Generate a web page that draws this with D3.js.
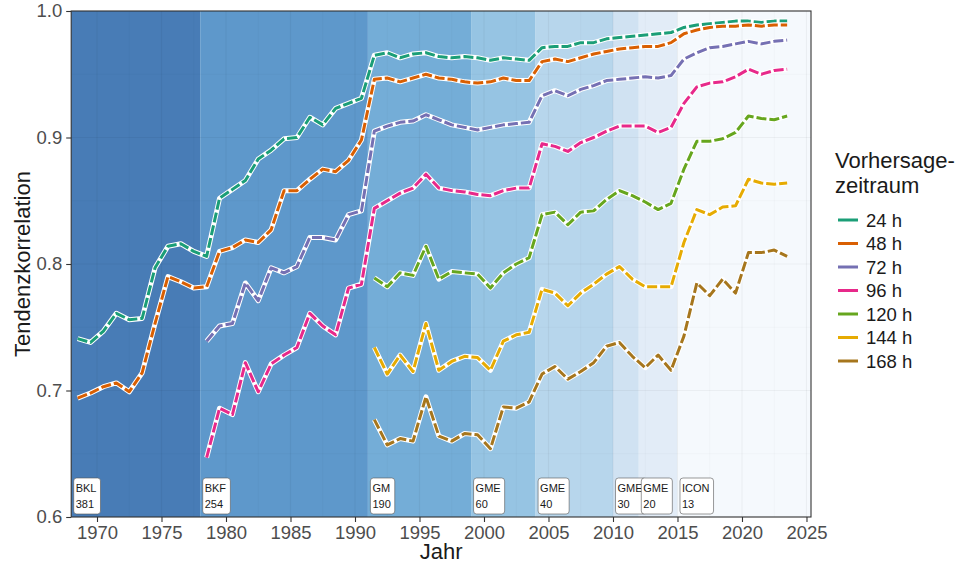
<!DOCTYPE html>
<html>
<head>
<meta charset="utf-8">
<script src="https://cdn.jsdelivr.net/npm/d3@7"></script>
<style>
  body { margin: 0; background: #fff; }
  text { font-family: "Liberation Sans", Arial, sans-serif; }
</style>
</head>
<body>
<svg id="chart" width="959" height="566"></svg>
<script>
// values
var years24 = d3.range(1968, 2024)
var years72 = d3.range(1978, 2024)
var years120 = d3.range(1991, 2024)

var h24 = [0.741, 0.738, 0.747, 0.761, 0.756, 0.757, 0.797, 0.814, 0.816, 0.810,
  0.806, 0.852, 0.859, 0.866, 0.883, 0.890, 0.899, 0.900, 0.916, 0.910,
  0.923, 0.927, 0.931, 0.965, 0.967, 0.963, 0.966, 0.967, 0.964, 0.963,
  0.964, 0.963, 0.961, 0.963, 0.962, 0.961, 0.971, 0.972, 0.972, 0.975,
  0.975, 0.978, 0.979, 0.980, 0.981, 0.982, 0.983, 0.987, 0.989, 0.990,
  0.991, 0.992, 0.992, 0.991, 0.992, 0.992]
var h48 = [0.694, 0.698, 0.703, 0.706, 0.699, 0.714, 0.753, 0.790, 0.786, 0.781,
  0.782, 0.810, 0.813, 0.819, 0.817, 0.827, 0.858, 0.858, 0.867, 0.875,
  0.873, 0.882, 0.898, 0.946, 0.947, 0.944, 0.947, 0.950, 0.947, 0.946,
  0.944, 0.943, 0.944, 0.947, 0.945, 0.945, 0.960, 0.962, 0.960, 0.963,
  0.966, 0.968, 0.970, 0.971, 0.972, 0.972, 0.975, 0.982, 0.985, 0.987,
  0.988, 0.988, 0.989, 0.988, 0.989, 0.989]
var h72 = [0.739, 0.751, 0.753, 0.785, 0.771, 0.797, 0.793, 0.798, 0.821, 0.821,
  0.819, 0.839, 0.842, 0.905, 0.909, 0.912, 0.913, 0.918, 0.914, 0.910,
  0.908, 0.906, 0.908, 0.910, 0.911, 0.912, 0.933, 0.937, 0.933, 0.938,
  0.941, 0.945, 0.946, 0.947, 0.948, 0.947, 0.949, 0.962, 0.967, 0.971,
  0.972, 0.974, 0.976, 0.974, 0.976, 0.977]
var h96 = [0.647, 0.686, 0.681, 0.722, 0.699, 0.721, 0.728, 0.734, 0.761, 0.751,
  0.744, 0.781, 0.784, 0.844, 0.850, 0.856, 0.860, 0.871, 0.860, 0.858,
  0.857, 0.855, 0.854, 0.858, 0.860, 0.860, 0.895, 0.893, 0.889, 0.896,
  0.900, 0.905, 0.909, 0.909, 0.909, 0.904, 0.908, 0.927, 0.940, 0.943,
  0.944, 0.948, 0.954, 0.950, 0.953, 0.954]
var h120 = [0.789, 0.782, 0.793, 0.791, 0.814, 0.788, 0.794, 0.793, 0.792, 0.781,
  0.793, 0.800, 0.805, 0.839, 0.841, 0.831, 0.841, 0.842, 0.851, 0.858,
  0.854, 0.849, 0.843, 0.848, 0.875, 0.897, 0.897, 0.899, 0.904, 0.917,
  0.915, 0.914, 0.917]
var h144 = [0.734, 0.713, 0.728, 0.715, 0.753, 0.716, 0.723, 0.727, 0.726, 0.716,
  0.739, 0.744, 0.746, 0.780, 0.777, 0.767, 0.777, 0.784, 0.792, 0.798,
  0.788, 0.782, 0.782, 0.782, 0.817, 0.843, 0.839, 0.845, 0.846, 0.867,
  0.864, 0.863, 0.864]
var h168 = [0.677, 0.657, 0.662, 0.660, 0.695, 0.664, 0.660, 0.666, 0.665, 0.654,
  0.687, 0.686, 0.691, 0.713, 0.719, 0.709, 0.715, 0.722, 0.735, 0.738,
  0.727, 0.718, 0.728, 0.716, 0.743, 0.785, 0.775, 0.788, 0.777, 0.809,
  0.809, 0.811, 0.806]

var seriesNames = ["24 h", "48 h", "72 h", "96 h", "120 h", "144 h", "168 h"]
var seriesColors = ["#1b9e77", "#d95f02", "#7570b3", "#e7298a", "#66a61e", "#e6ab02", "#a6761d"]

// model periods (background bands)
var modelNames = ["BKL", "BKF", "GM", "GME", "GME", "GME", "GME", "ICON"]
var modelRes = ["381", "254", "190", "60", "40", "30", "20", "13"]
var modelStart = [1968, 1978, 1991, 1999, 2004, 2010, 2012, 2015]
var modelColors = ["#487cb6", "#5e98cb", "#74add7", "#96c4e3", "#b7d6ec", "#d0e2f2", "#e2ecf7", "#f5f9fd"]

var xTicks = d3.range(1970, 2026, 5)
var yTicks = [0.6, 0.7, 0.8, 0.9, 1.0]

var series = [
  { key: seriesNames[0], years: years24, values: h24 },
  { key: seriesNames[1], years: years24, values: h48 },
  { key: seriesNames[2], years: years72, values: h72 },
  { key: seriesNames[3], years: years72, values: h96 },
  { key: seriesNames[4], years: years120, values: h120 },
  { key: seriesNames[5], years: years120, values: h144 },
  { key: seriesNames[6], years: years120, values: h168 }
]

var margin = { top: 11, left: 71.2, right: 148, bottom: 49 }
var width = 959 - margin.left - margin.right
var height = 566 - margin.top - margin.bottom

var svg = d3.select("#chart")
var g = svg.append("g")
  .attr("transform", "translate(" + margin.left + "," + margin.top + ")")

var xMax = 2025.35
var x = d3.scaleLinear().domain([1968, xMax]).range([0, width])
var y = d3.scaleLinear().domain([0.6, 1.0]).range([height, 0])
var color = d3.scaleOrdinal().domain(seriesNames).range(seriesColors)

// background bands
var bands = modelStart.map(function(s, i) {
  return { start: s, end: i < modelStart.length - 1 ? modelStart[i + 1] : xMax, fill: modelColors[i] }
})
g.selectAll(".band")
  .data(bands)
  .enter()
  .append("rect")
  .attr("x", function(d) { return x(d.start) })
  .attr("width", function(d) { return x(d.end) - x(d.start) })
  .attr("y", 0)
  .attr("height", height)
  .attr("fill", function(d) { return d.fill })

// grid lines
var xMinor = d3.range(1970, 2026, 2.5)
var yMinor = d3.range(0.6, 1.001, 0.05)
g.selectAll(".gx")
  .data(xMinor)
  .enter()
  .append("line")
  .attr("x1", function(d) { return x(d) })
  .attr("x2", function(d) { return x(d) })
  .attr("y1", 0).attr("y2", height)
  .attr("stroke", "rgba(0,0,0,0.045)")
  .attr("stroke-width", function(d) { return d % 5 === 0 ? 1.2 : 0.6 })
g.selectAll(".gy")
  .data(yMinor)
  .enter()
  .append("line")
  .attr("y1", function(d) { return y(d) })
  .attr("y2", function(d) { return y(d) })
  .attr("x1", 0).attr("x2", width)
  .attr("stroke", "rgba(0,0,0,0.045)")
  .attr("stroke-width", function(d, i) { return i % 2 === 0 ? 1.2 : 0.6 })

// lines: white halo + dashed coloured line, points at mid-year
var line = d3.line()
  .x(function(d) { return x(d[0] + 0.5) })
  .y(function(d) { return y(d[1]) })

series.forEach(function(s) {
  var pts = s.years.map(function(yr, i) { return [yr, s.values[i]] })
  g.append("path")
    .datum(pts)
    .attr("fill", "none")
    .attr("stroke", "#fff")
    .attr("stroke-width", 5)
    .attr("stroke-linejoin", "round")
    .attr("d", line)
  g.append("path")
    .datum(pts)
    .attr("fill", "none")
    .attr("stroke", color(s.key))
    .attr("stroke-width", 3)
    .attr("stroke-dasharray", "10,3")
    .attr("stroke-linejoin", "round")
    .attr("d", line)
})

// model labels
modelStart.forEach(function(s, i) {
  var lg = g.append("g")
    .attr("transform", "translate(" + (x(s) + 2.5) + "," + (height - 39) + ")")
  var box = lg.append("rect")
  var t = lg.append("text")
    .attr("font-size", 11)
    .attr("fill", "#1a1a1a")
  t.append("tspan").attr("x", 2).attr("y", 14).text(modelNames[i])
  t.append("tspan").attr("x", 2).attr("y", 30).text(modelRes[i])
  var bb = t.node().getBBox()
  box.attr("x", 0).attr("y", 0)
    .attr("width", bb.width + 6)
    .attr("height", 36)
    .attr("rx", 3)
    .attr("fill", "#fff")
    .attr("stroke", "#555")
    .attr("stroke-width", 0.6)
})

// panel border
g.append("rect")
  .attr("width", width)
  .attr("height", height)
  .attr("fill", "none")
  .attr("stroke", "#333")
  .attr("stroke-width", 1.1)

// axes
var xAxis = g.append("g")
  .attr("transform", "translate(0," + height + ")")
  .call(d3.axisBottom(x).tickValues(xTicks).tickFormat(d3.format("d")).tickSize(5).tickPadding(4))
var yAxis = g.append("g")
  .call(d3.axisLeft(y).tickValues(yTicks).tickFormat(d3.format(".1f")).tickSize(5).tickPadding(4))
;[xAxis, yAxis].forEach(function(a) {
  a.select(".domain").remove()
  a.selectAll(".tick line").attr("stroke", "#333").attr("stroke-width", 1.1)
  a.selectAll(".tick text")
    .attr("font-family", "Liberation Sans, Arial, sans-serif")
    .attr("font-size", 18.5)
    .attr("fill", "#4d4d4d")
})

// axis titles
svg.append("text")
  .attr("x", margin.left + width / 2)
  .attr("y", 559)
  .attr("text-anchor", "middle")
  .attr("font-size", 22)
  .attr("fill", "#1a1a1a")
  .text("Jahr")
svg.append("text")
  .attr("transform", "translate(30," + (margin.top + height / 2) + ") rotate(-90)")
  .attr("text-anchor", "middle")
  .attr("font-size", 22)
  .attr("fill", "#1a1a1a")
  .text("Tendenzkorrelation")

// legend
var legend = svg.append("g").attr("transform", "translate(835,0)")
legend.append("text")
  .attr("font-size", 22)
  .attr("fill", "#1a1a1a")
  .selectAll("tspan")
  .data(["Vorhersage-", "zeitraum"])
  .enter()
  .append("tspan")
  .attr("x", 0)
  .attr("y", function(d, i) { return 168 + i * 25 })
  .text(function(d) { return d })

var items = legend.selectAll(".item")
  .data(seriesNames)
  .enter()
  .append("g")
  .attr("transform", function(d, i) { return "translate(0," + (220 + i * 23.5) + ")" })
items.append("line")
  .attr("x1", 3).attr("x2", 23)
  .attr("stroke", function(d) { return color(d) })
  .attr("stroke-width", 3)
items.append("text")
  .attr("x", 31)
  .attr("y", 6.5)
  .attr("font-size", 18.5)
  .attr("fill", "#1a1a1a")
  .text(function(d) { return d })
</script>
</body>
</html>
